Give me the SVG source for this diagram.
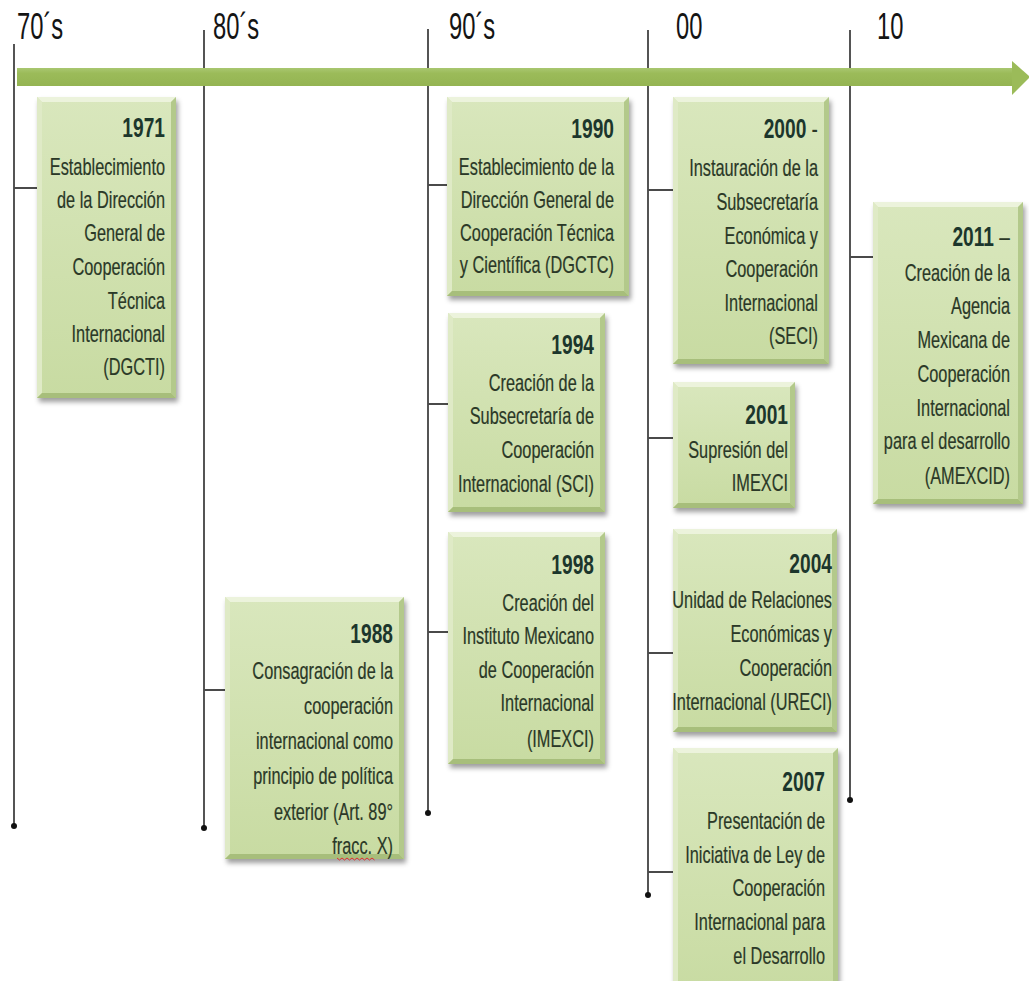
<svg xmlns="http://www.w3.org/2000/svg" width="1029" height="981" viewBox="0 0 1029 981">
<defs>
<linearGradient id="bg" x1="0" y1="0" x2="0" y2="1">
<stop offset="0" stop-color="#d9e7bd"/>
<stop offset="1" stop-color="#c8dba2"/>
</linearGradient>
<linearGradient id="barg" x1="0" y1="0" x2="0" y2="1">
<stop offset="0" stop-color="#a9c770"/>
<stop offset="0.3" stop-color="#9bbb59"/>
<stop offset="1" stop-color="#94b452"/>
</linearGradient>
<filter id="sh" x="-10%" y="-10%" width="130%" height="130%">
<feDropShadow dx="2" dy="4" stdDeviation="2.5" flood-color="#000" flood-opacity="0.38"/>
</filter>
<style>
.box{fill:url(#bg);}
.bt{fill:#ecf3dc;}
.bl{fill:#dfeac6;}
.br{fill:#b3c98b;}
.bb{fill:#a7be7b;}
.yr{font-family:"Liberation Sans",Arial,sans-serif;font-weight:bold;font-size:27px;fill:#1c362c;text-anchor:end;}
.tx{font-family:"Liberation Sans",Arial,sans-serif;font-size:23px;fill:#2a3827;text-anchor:end;stroke:#2a3827;stroke-width:0.2;}
.dec{font-family:"Liberation Sans",Arial,sans-serif;font-size:36px;fill:#141414;}
.vl{stroke:#2a2a2a;stroke-width:1.6;fill:none;}
.hl{stroke:#4a4a4a;stroke-width:2;fill:none;}
.dot{fill:#111;}
</style>
</defs>
<rect width="1029" height="981" fill="#ffffff"/>

<g id="connectors">
<line class="vl" x1="14" y1="44" x2="14" y2="826"/>
<line class="vl" x1="204" y1="30" x2="204" y2="828"/>
<line class="vl" x1="428" y1="29" x2="428" y2="813"/>
<line class="vl" x1="648" y1="30" x2="648" y2="895"/>
<line class="vl" x1="850" y1="30" x2="850" y2="800"/>
<circle class="dot" cx="14" cy="826" r="3"/>
<circle class="dot" cx="204" cy="828" r="3"/>
<circle class="dot" cx="428" cy="813" r="3"/>
<circle class="dot" cx="648" cy="895" r="3"/>
<circle class="dot" cx="850" cy="800" r="3"/>
<line class="hl" x1="14" y1="188" x2="37" y2="188"/>
<line class="hl" x1="204" y1="690" x2="225" y2="690"/>
<line class="hl" x1="428" y1="185" x2="447" y2="185"/>
<line class="hl" x1="428" y1="404" x2="448" y2="404"/>
<line class="hl" x1="428" y1="632" x2="448" y2="632"/>
<line class="hl" x1="648" y1="190" x2="673" y2="190"/>
<line class="hl" x1="648" y1="438" x2="673" y2="438"/>
<line class="hl" x1="648" y1="653" x2="673" y2="653"/>
<line class="hl" x1="648" y1="872" x2="673" y2="872"/>
<line class="hl" x1="850" y1="257" x2="873" y2="257"/>
</g>

<g id="timeline">
<rect x="17" y="68" width="996" height="18" fill="url(#barg)"/>
<polygon points="1012,61 1030,77 1012,95" fill="#9bbb59"/>
</g>

<g id="decades">
<text class="dec" transform="translate(17 39) scale(.66 1)">70´s</text>
<text class="dec" transform="translate(213 39) scale(.66 1)">80´s</text>
<text class="dec" transform="translate(449 39) scale(.66 1)">90´s</text>
<text class="dec" transform="translate(676 39) scale(.66 1)">00</text>
<text class="dec" transform="translate(877 39) scale(.66 1)">10</text>
</g>

<g id="n1971">
<rect class="box" x="37" y="97" width="139" height="301" filter="url(#sh)"/>
<path class="bt" d="M37 97h139l-5 5h-129z"/>
<path class="bl" d="M37 97l5 5v291l-5 5z"/>
<path class="br" d="M176 97v301l-5-5v-291z"/>
<path class="bb" d="M37 398h139l-5-5h-129z"/>
<g transform="translate(165 0) scale(.71 1)">
<text class="yr" y="137">1971</text>
<text class="tx" y="175">Establecimiento</text>
<text class="tx" y="208">de la Dirección</text>
<text class="tx" y="241">General de</text>
<text class="tx" y="275">Cooperación</text>
<text class="tx" y="309">Técnica</text>
<text class="tx" y="342">Internacional</text>
<text class="tx" y="375">(DGCTI)</text>
</g>
</g>

<g id="n1988">
<rect class="box" x="225" y="597" width="179" height="262" filter="url(#sh)"/>
<path class="bt" d="M225 597h179l-5 5h-169z"/>
<path class="bl" d="M225 597l5 5v252l-5 5z"/>
<path class="br" d="M404 597v262l-5-5v-252z"/>
<path class="bb" d="M225 859h179l-5-5h-169z"/>
<g transform="translate(393 0) scale(.71 1)">
<text class="yr" y="643">1988</text>
<text class="tx" y="679">Consagración de la</text>
<text class="tx" y="714">cooperación</text>
<text class="tx" y="749">internacional como</text>
<text class="tx" y="784">principio de política</text>
<text class="tx" y="820">exterior (Art. 89°</text>
<text class="tx" y="854">fracc. X)</text>
</g>
<path d="M337 858l2.5 2 2.5-2 2.5 2 2.5-2 2.5 2 2.5-2 2.5 2 2.5-2 2.5 2 2.5-2 2.5 2 2.5-2 2.5 2 2.5-2 2.5 2" fill="none" stroke="#e03030" stroke-width="1"/>
</g>

<g id="n1990">
<rect class="box" x="447" y="97" width="182" height="199" filter="url(#sh)"/>
<path class="bt" d="M447 97h182l-5 5h-172z"/>
<path class="bl" d="M447 97l5 5v189l-5 5z"/>
<path class="br" d="M629 97v199l-5-5v-189z"/>
<path class="bb" d="M447 296h182l-5-5h-172z"/>
<g transform="translate(614 0) scale(.71 1)">
<text class="yr" y="138">1990</text>
<text class="tx" y="175">Establecimiento de la</text>
<text class="tx" y="208">Dirección General de</text>
<text class="tx" y="241">Cooperación Técnica</text>
<text class="tx" y="273">y Científica (DGCTC)</text>
</g>
</g>

<g id="n1994">
<rect class="box" x="448" y="313" width="157" height="199" filter="url(#sh)"/>
<path class="bt" d="M448 313h157l-5 5h-147z"/>
<path class="bl" d="M448 313l5 5v189l-5 5z"/>
<path class="br" d="M605 313v199l-5-5v-189z"/>
<path class="bb" d="M448 512h157l-5-5h-147z"/>
<g transform="translate(594 0) scale(.71 1)">
<text class="yr" y="354">1994</text>
<text class="tx" y="391">Creación de la</text>
<text class="tx" y="424">Subsecretaría de</text>
<text class="tx" y="458">Cooperación</text>
<text class="tx" y="492">Internacional (SCI)</text>
</g>
</g>

<g id="n1998">
<rect class="box" x="448" y="532" width="157" height="232" filter="url(#sh)"/>
<path class="bt" d="M448 532h157l-5 5h-147z"/>
<path class="bl" d="M448 532l5 5v222l-5 5z"/>
<path class="br" d="M605 532v232l-5-5v-222z"/>
<path class="bb" d="M448 764h157l-5-5h-147z"/>
<g transform="translate(594 0) scale(.71 1)">
<text class="yr" y="574">1998</text>
<text class="tx" y="611">Creación del</text>
<text class="tx" y="644">Instituto Mexicano</text>
<text class="tx" y="678">de Cooperación</text>
<text class="tx" y="711">Internacional</text>
<text class="tx" y="747">(IMEXCI)</text>
</g>
</g>

<g id="n2000">
<rect class="box" x="673" y="97" width="156" height="267" filter="url(#sh)"/>
<path class="bt" d="M673 97h156l-5 5h-146z"/>
<path class="bl" d="M673 97l5 5v257l-5 5z"/>
<path class="br" d="M829 97v267l-5-5v-257z"/>
<path class="bb" d="M673 364h156l-5-5h-146z"/>
<g transform="translate(818 0) scale(.71 1)">
<text class="yr" y="138">2000 <tspan style="font-weight:normal;fill:#2a3827">-</tspan></text>
<text class="tx" y="176">Instauración de la</text>
<text class="tx" y="210">Subsecretaría</text>
<text class="tx" y="244">Económica y</text>
<text class="tx" y="277">Cooperación</text>
<text class="tx" y="311">Internacional</text>
<text class="tx" y="344">(SECI)</text>
</g>
</g>

<g id="n2001">
<rect class="box" x="673" y="382" width="122" height="126" filter="url(#sh)"/>
<path class="bt" d="M673 382h122l-5 5h-112z"/>
<path class="bl" d="M673 382l5 5v116l-5 5z"/>
<path class="br" d="M795 382v126l-5-5v-116z"/>
<path class="bb" d="M673 508h122l-5-5h-112z"/>
<g transform="translate(788 0) scale(.71 1)">
<text class="yr" y="424">2001</text>
<text class="tx" y="458">Supresión del</text>
<text class="tx" y="491">IMEXCI</text>
</g>
</g>

<g id="n2004">
<rect class="box" x="673" y="529" width="164" height="203" filter="url(#sh)"/>
<path class="bt" d="M673 529h164l-5 5h-154z"/>
<path class="bl" d="M673 529l5 5v193l-5 5z"/>
<path class="br" d="M837 529v203l-5-5v-193z"/>
<path class="bb" d="M673 732h164l-5-5h-154z"/>
<g transform="translate(832 0) scale(.71 1)">
<text class="yr" y="573">2004</text>
<text class="tx" y="608">Unidad de Relaciones</text>
<text class="tx" y="642">Económicas y</text>
<text class="tx" y="676">Cooperación</text>
<text class="tx" y="710">Internacional (URECI)</text>
</g>
</g>

<g id="n2007">
<rect class="box" x="673" y="748" width="165" height="245" filter="url(#sh)"/>
<path class="bt" d="M673 748h165l-5 5h-155z"/>
<path class="bl" d="M673 748l5 5v235l-5 5z"/>
<path class="br" d="M838 748v245l-5-5v-235z"/>
<g transform="translate(825 0) scale(.71 1)">
<text class="yr" y="791">2007</text>
<text class="tx" y="829">Presentación de</text>
<text class="tx" y="863">Iniciativa de Ley de</text>
<text class="tx" y="896">Cooperación</text>
<text class="tx" y="930">Internacional para</text>
<text class="tx" y="964">el Desarrollo</text>
</g>
</g>

<g id="n2011">
<rect class="box" x="873" y="202" width="150" height="302" filter="url(#sh)"/>
<path class="bt" d="M873 202h150l-5 5h-140z"/>
<path class="bl" d="M873 202l5 5v292l-5 5z"/>
<path class="br" d="M1023 202v302l-5-5v-292z"/>
<path class="bb" d="M873 504h150l-5-5h-140z"/>
<g transform="translate(1010 0) scale(.71 1)">
<text class="yr" y="246">2011 <tspan style="font-weight:normal;fill:#2a3827">–</tspan></text>
<text class="tx" y="281">Creación de la</text>
<text class="tx" y="314">Agencia</text>
<text class="tx" y="348">Mexicana de</text>
<text class="tx" y="382">Cooperación</text>
<text class="tx" y="416">Internacional</text>
<text class="tx" y="449">para el desarrollo</text>
<text class="tx" y="484">(AMEXCID)</text>
</g>
</g>
</svg>
